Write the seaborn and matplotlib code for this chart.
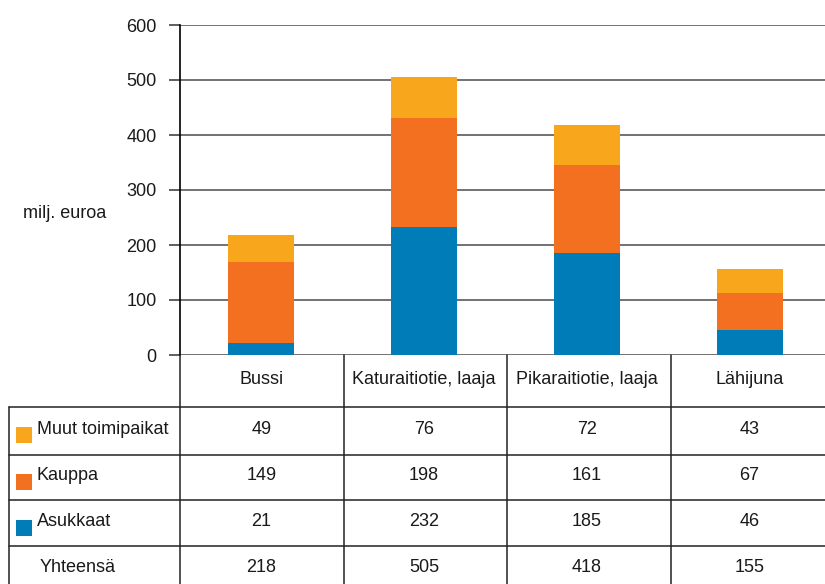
import matplotlib
matplotlib.use("Agg")
import matplotlib.pyplot as plt
from matplotlib.patches import Rectangle
import seaborn as sns
import numpy as np

# Data
categories = ["Bussi", "Katuraitiotie, laaja", "Pikaraitiotie, laaja", "Lähijuna"]
series_names = ["Muut toimipaikat", "Kauppa", "Asukkaat"]
muut = [49, 76, 72, 43]
kauppa = [149, 198, 161, 67]
asukkaat = [21, 232, 185, 46]
yhteensa = [218, 505, 418, 155]
yticks = [0, 100, 200, 300, 400, 500, 600]

col_yellow = "#F8A61C"
col_orange = "#F37021"
col_blue = "#007DB8"
text_col = "#1a1a1a"

sns.set_style("white")
plt.rcParams["font.family"] = ["Liberation Sans Narrow", "Liberation Sans", "DejaVu Sans"]
fs = 13

W, H = 825, 584
fig = plt.figure(figsize=(W / 100, H / 100), dpi=100)

# plot area in pixel units
L, R, TOP, ZERO = 180, 831, 25, 355
ax = fig.add_axes([L / W, 1 - ZERO / H, (R - L) / W, (ZERO - TOP) / H])

# stacked bars: draw cumulative totals from top layer down
lvl2 = np.array(asukkaat) + np.array(kauppa)
lvl3 = lvl2 + np.array(muut)
for vals, c in [(lvl3, col_yellow), (lvl2, col_orange), (asukkaat, col_blue)]:
    sns.barplot(x=categories, y=vals, order=categories, color=c, saturation=1,
                width=0.405, ax=ax, zorder=3, linewidth=0, edgecolor="none")

ax.set_xlim(-0.5, 3.5)
ax.set_ylim(0, 600)
ax.set_yticks(yticks)
ax.set_yticklabels([str(t) for t in yticks], fontsize=fs, color=text_col)
ax.set_xticks([])
ax.set_xlabel("")
ax.yaxis.grid(True, color="#5a5a5a", lw=1.2)
ax.set_axisbelow(True)
for s in ["top", "right", "bottom"]:
    ax.spines[s].set_visible(False)
ax.spines["left"].set_color("black")
ax.spines["left"].set_linewidth(1.2)
ax.tick_params(axis="y", left=True, length=8, width=1.1, color="#333333", pad=9)

# overlay for label + table, pixel coordinates
tab = fig.add_axes([0, 0, 1, 1], zorder=5)
tab.set_xlim(0, W)
tab.set_ylim(H, 0)
tab.axis("off")
tab.patch.set_alpha(0)

tab.text(23, 213, "milj. euroa", fontsize=fs, color=text_col, ha="left", va="center")

line_kw = dict(color="#222222", lw=1.1)
col_edges = [180, 344, 507, 671]
row_lines = [407, 455, 500, 546]
tab.plot([L, L], [ZERO, H], **line_kw)
for x in col_edges[1:]:
    tab.plot([x, x], [ZERO, H], **line_kw)
tab.plot([8.5, 8.5], [row_lines[0], H], **line_kw)
for y in row_lines:
    tab.plot([8.5, W], [y, y], **line_kw)

col_w = (R - L) / 4
centers = [L + col_w * (i + 0.5) for i in range(4)]
header_y = 380
row_y = [429, 476, 522, 568]

for cx, name in zip(centers, categories):
    tab.text(cx, header_y, name, fontsize=fs, color=text_col, ha="center", va="center")

rows = [muut, kauppa, asukkaat, yhteensa]
row_labels = series_names + ["Yhteensä"]
row_colors = [col_yellow, col_orange, col_blue, None]
for ry, vals, lab, c in zip(row_y, rows, row_labels, row_colors):
    if c is not None:
        tab.add_patch(Rectangle((16, ry - 2.5), 16, 16.5, color=c, lw=0))
        tab.text(37, ry, lab, fontsize=fs, color=text_col, ha="left", va="center")
    else:
        tab.text(40, ry, lab, fontsize=fs, color=text_col, ha="left", va="center")
    for cx, v in zip(centers, vals):
        tab.text(cx, ry, str(v), fontsize=fs, color=text_col, ha="center", va="center")

fig.savefig("out.png", dpi=100)
